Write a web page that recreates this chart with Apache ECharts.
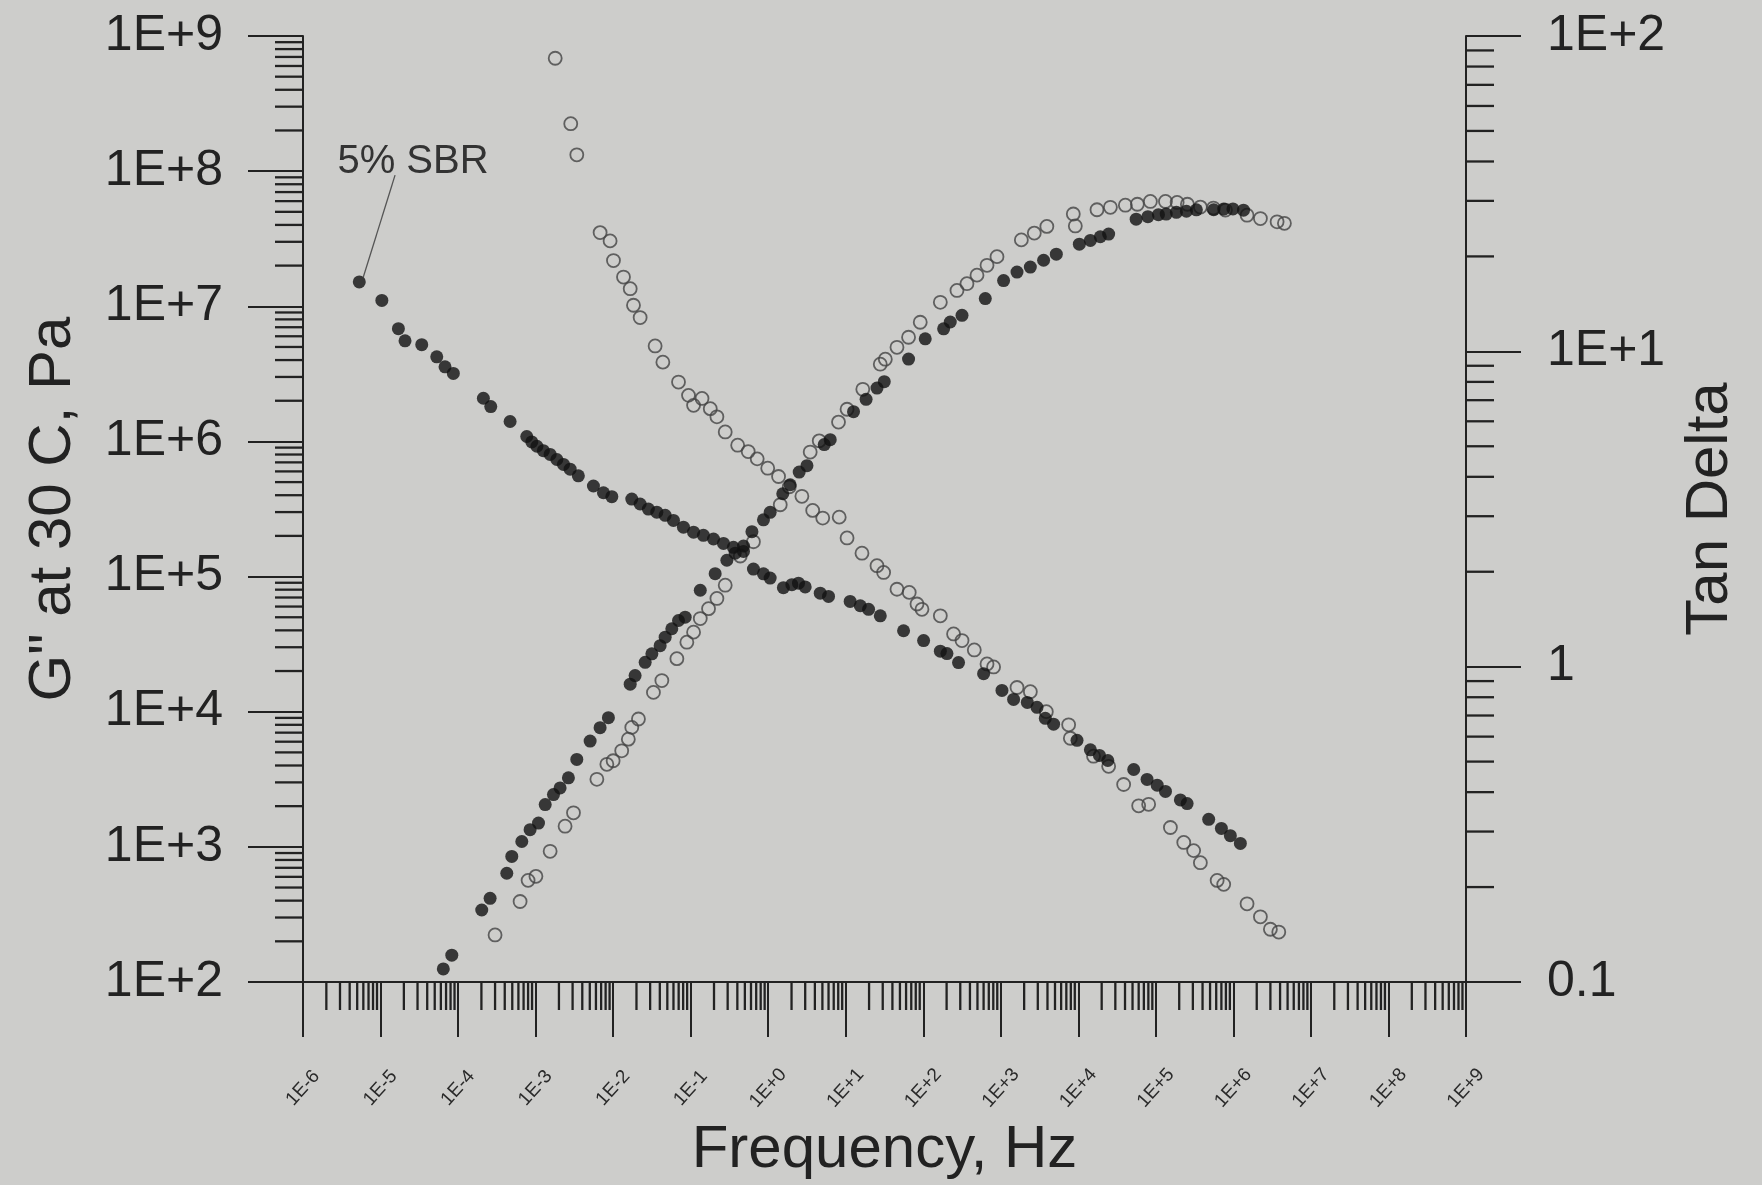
<!DOCTYPE html>
<html><head><meta charset="utf-8">
<script src="https://cdn.jsdelivr.net/npm/echarts@6/dist/echarts.min.js"></script>
<style>html,body{margin:0;padding:0;background:#cdcdcb;}#c{width:1762px;height:1185px;}</style>
</head><body><div id="c"></div>
<script>
// ---- data ----
// filled symbols, Tan Delta (right axis) – labelled "5% SBR"
const freqFilledTan = [5.32e-6,1.04e-5,1.70e-5,2.07e-5,3.40e-5,5.31e-5,6.79e-5,8.69e-5,2.12e-4,2.64e-4,4.69e-4,7.69e-4,8.93e-4,1.04e-3,1.26e-3,1.54e-3,1.88e-3,2.29e-3,2.79e-3,3.56e-3,5.57e-3,7.50e-3,9.62e-3,1.74e-2,2.23e-2,2.85e-2,3.66e-2,4.69e-2,6.00e-2,8.07e-2,0.109,0.146,0.197,0.265,0.356,0.480,0.645,0.869,1.06,1.57,2.02,2.46,3.00,4.69,6.00,11.4,15.4,19.7,27.9,55.7,101,166,202,285,600,1035,1462,2198,2931,3750,4797,9616,1.43e4,1.87e4,2.40e4,5.18e4,7.70e4,1.04e5,1.33e5,2.07e5,2.53e5,4.80e5,7.00e5,9.14e5,1.23e6];
const tanFilled = [16.6,14.5,11.8,10.8,10.5,9.61,8.93,8.51,7.10,6.68,5.99,5.37,5.16,5.00,4.84,4.71,4.54,4.38,4.23,4.03,3.74,3.56,3.46,3.40,3.28,3.16,3.09,3.02,2.91,2.77,2.67,2.61,2.54,2.46,2.39,2.32,2.04,1.97,1.91,1.78,1.82,1.84,1.79,1.71,1.67,1.61,1.56,1.52,1.45,1.30,1.21,1.12,1.10,1.03,0.950,0.841,0.787,0.770,0.743,0.686,0.657,0.584,0.545,0.523,0.504,0.472,0.439,0.421,0.402,0.378,0.368,0.328,0.307,0.291,0.275];
// filled symbols, G'' (left axis)
const freqFilledG = [6.45e-5,8.30e-5,2.02e-4,2.59e-4,4.25e-4,4.93e-4,6.64e-4,8.49e-4,1.09e-3,1.33e-3,1.70e-3,2.07e-3,2.65e-3,3.40e-3,5.05e-3,6.79e-3,8.69e-3,1.66e-2,1.92e-2,2.59e-2,3.16e-2,4.04e-2,4.69e-2,5.71e-2,6.97e-2,8.49e-2,0.133,0.207,0.293,0.375,0.480,0.617,0.869,1.06,1.54,1.92,2.51,3.16,5.28,6.31,12.6,18.3,25.3,31.4,64.6,106,183,223,316,631,1086,1618,2404,3565,5200,1.03e4,1.43e4,1.92e4,2.46e4,5.57e4,7.89e4,1.08e5,1.36e5,1.84e5,2.48e5,3.33e5,5.57e5,7.50e5,9.86e5,1.35e6];
const gFilled = [125,158,341,416,638,849,1096,1340,1500,2055,2438,2729,3243,4436,6067,7621,9036,1.60e4,1.85e4,2.32e4,2.68e4,3.08e4,3.56e4,4.11e4,4.73e4,5.01e4,7.92e4,1.05e5,1.32e5,1.49e5,1.68e5,2.15e5,2.63e5,2.99e5,4.10e5,4.78e5,5.93e5,6.62e5,9.48e5,1.03e6,1.66e6,2.05e6,2.48e6,2.77e6,4.07e6,5.74e6,6.81e6,7.65e6,8.57e6,1.14e7,1.55e7,1.79e7,1.95e7,2.19e7,2.43e7,2.88e7,3.07e7,3.27e7,3.42e7,4.41e7,4.60e7,4.76e7,4.81e7,4.96e7,5.05e7,5.17e7,5.18e7,5.24e7,5.25e7,5.14e7];
// open symbols, Tan Delta (right axis)
const freqOpenTan = [1.79e-3,2.84e-3,3.40e-3,6.79e-3,9.14e-3,1.01e-2,1.36e-2,1.66e-2,1.83e-2,2.23e-2,3.48e-2,4.38e-2,6.97e-2,9.38e-2,0.109,0.140,0.179,0.218,0.279,0.404,0.552,0.721,0.986,1.36,1.87,2.72,3.75,5.05,8.24,10.4,16.2,25.3,30.8,45.8,65.9,83.0,96.2,166,246,316,455,664,807,1618,2404,3864,7499,7888,1.57e4,2.46e4,3.84e4,6.00e4,8.07e4,1.54e5,2.29e5,3.07e5,3.75e5,6.17e5,7.50e5,1.50e6,2.23e6,3.00e6,3.85e6];
const tanOpen = [85.0,52.7,42.0,23.8,22.4,19.4,17.2,15.8,14.0,12.8,10.4,9.24,7.99,7.25,6.74,7.09,6.58,6.20,5.55,5.04,4.81,4.56,4.26,4.01,3.72,3.47,3.13,2.96,2.98,2.56,2.29,2.09,1.99,1.76,1.72,1.58,1.52,1.45,1.27,1.21,1.13,1.02,0.998,0.859,0.833,0.720,0.654,0.593,0.520,0.483,0.423,0.362,0.366,0.309,0.277,0.261,0.239,0.210,0.204,0.177,0.161,0.147,0.144];
// open symbols, G'' (left axis)
const freqOpenG = [3.00e-4,6.31e-4,8.00e-4,1.01e-3,1.54e-3,2.40e-3,3.08e-3,6.17e-3,8.30e-3,1.00e-2,1.29e-2,1.57e-2,1.74e-2,2.12e-2,3.31e-2,4.25e-2,6.64e-2,8.93e-2,0.109,0.133,0.170,0.218,0.279,0.436,0.645,1.43,3.48,4.55,8.07,10.4,16.6,27.9,32.4,45.8,64.6,91.4,166,272,366,493,664,893,1841,2704,3926,8610,9141,1.74e4,2.59e4,4.04e4,5.77e4,8.49e4,1.33e5,1.88e5,2.55e5,3.75e5,5.52e5,7.89e5,1.50e6,2.23e6,3.66e6,4.55e6];
const gOpen = [223,394,565,605,927,1422,1786,3162,4083,4335,5140,6266,7656,8831,1.39e4,1.70e4,2.47e4,3.27e4,3.88e4,4.89e4,5.79e4,6.89e4,8.63e4,1.42e5,1.81e5,3.40e5,8.34e5,1.01e6,1.39e6,1.73e6,2.43e6,3.73e6,4.06e6,4.97e6,5.90e6,7.62e6,1.07e7,1.31e7,1.47e7,1.70e7,2.01e7,2.33e7,3.10e7,3.48e7,3.90e7,4.82e7,3.93e7,5.18e7,5.40e7,5.60e7,5.69e7,5.97e7,5.97e7,5.87e7,5.69e7,5.42e7,5.33e7,5.15e7,4.72e7,4.46e7,4.22e7,4.11e7];
// annotation
const annotationText = '5% SBR';
const annotationLabelAt = [2.62e-5, 39.9];
const annotationLine = [[1.54e-5, 36.2], [6.0e-6, 17.2]];
// axis ranges (decades)
const xRange = [1e-6, 1e9];
const gRange = [1e2, 1e9];
const tanRange = [0.1, 100];
const minorMultipliers = [2,3,4,5,6,7,8,9];

// ---- chart ----
const FONT = '"Liberation Sans", Arial, Helvetica, sans-serif';
const INK = '#222222';
function decadesBetween(lo, hi){const out=[];for(let e=Math.round(Math.log10(lo));e<Math.round(Math.log10(hi));e++){minorMultipliers.forEach(m=>out.push(m*Math.pow(10,e)));}return out;}
function pairs(xs, ys){return xs.map((x,i)=>[x, ys[i]]);}
function expOf(v){return Math.round(Math.log10(v));}
function eLabel(v){const e=expOf(v);return '1E'+(e<0?'-':'+')+Math.abs(e);}

const xMinor = decadesBetween(xRange[0], xRange[1]).map(v=>[v, gRange[0]]);
const gMinor = decadesBetween(gRange[0], gRange[1]).map(v=>[xRange[0], v]);
const tMinor = decadesBetween(tanRange[0], tanRange[1]).map(v=>[xRange[1], v]);
const MINOR = 28;

function minorSeries(data, yIdx, dir){
  return {type:'custom', xAxisIndex:0, yAxisIndex:yIdx, silent:true, clip:false, z:1,
    data:data, encode:{x:0,y:1},
    renderItem:function(params, api){
      const p = api.coord([api.value(0), api.value(1)]);
      let sh;
      if(dir==='down') sh={x1:p[0],y1:p[1],x2:p[0],y2:p[1]+MINOR};
      else if(dir==='left') sh={x1:p[0]-MINOR,y1:p[1],x2:p[0],y2:p[1]};
      else sh={x1:p[0],y1:p[1],x2:p[0]+MINOR,y2:p[1]};
      return {type:'line', shape:sh, style:{stroke:INK, lineWidth:2.3}};
    }};
}

const chart = echarts.init(document.getElementById('c'), null, {renderer:'canvas'});
chart.setOption({
  backgroundColor:'#cdcdcb',
  animation:false,
  textStyle:{fontFamily:FONT},
  grid:{left:303, right:296, top:36, bottom:203},
  xAxis:{type:'log', logBase:10, min:xRange[0], max:xRange[1], interval:1, splitNumber:15,
    axisLine:{show:true, onZero:false, lineStyle:{color:INK, width:2}},
    axisTick:{show:true, length:55, inside:false, lineStyle:{color:INK, width:2}},
    splitLine:{show:false},
    axisLabel:{formatter:eLabel, rotate:48, align:'center', verticalAlign:'middle', margin:106, fontSize:19, color:'#2a2a2a', fontFamily:FONT},
    name:'Frequency, Hz', nameLocation:'middle', nameGap:138,
    nameTextStyle:{fontSize:60, color:INK, fontFamily:FONT}},
  yAxis:[
    {type:'log', logBase:10, min:gRange[0], max:gRange[1], interval:1, position:'left',
      axisLine:{show:true, lineStyle:{color:INK, width:2}},
      axisTick:{show:true, length:55, inside:false, lineStyle:{color:INK, width:2}},
      splitLine:{show:false},
      axisLabel:{formatter:function(v){return '1E+'+expOf(v);}, margin:80, fontSize:50, color:INK, fontFamily:FONT},
      name:'G" at 30 C, Pa', nameLocation:'middle', nameRotate:90, nameGap:220,
      nameTextStyle:{fontSize:60, color:INK, fontFamily:FONT, padding:[0,0,0,0]}},
    {type:'log', logBase:10, min:tanRange[0], max:tanRange[1], interval:1, position:'right',
      axisLine:{show:true, lineStyle:{color:INK, width:2}},
      axisTick:{show:true, length:55, inside:false, lineStyle:{color:INK, width:2}},
      splitLine:{show:false},
      axisLabel:{formatter:function(v){const e=expOf(v);return e>=1?('1E+'+e):(e===0?'1':'0.1');}, margin:81, fontSize:50, color:INK, fontFamily:FONT},
      name:'Tan Delta', nameLocation:'middle', nameRotate:90, nameGap:214,
      nameTextStyle:{fontSize:60, color:INK, fontFamily:FONT}}
  ],
  series:[
    minorSeries(xMinor, 0, 'down'),
    minorSeries(gMinor, 0, 'left'),
    minorSeries(tMinor, 1, 'right'),
    {type:'scatter', name:'open G', xAxisIndex:0, yAxisIndex:0, data:pairs(freqOpenG, gOpen),
      symbol:'circle', symbolSize:13, itemStyle:{color:'rgba(0,0,0,0)', borderColor:'#444', borderWidth:1.8}},
    {type:'scatter', name:'open tan', xAxisIndex:0, yAxisIndex:1, data:pairs(freqOpenTan, tanOpen),
      symbol:'circle', symbolSize:13, itemStyle:{color:'rgba(0,0,0,0)', borderColor:'#444', borderWidth:1.8}},
    {type:'scatter', name:'filled G', xAxisIndex:0, yAxisIndex:0, data:pairs(freqFilledG, gFilled),
      symbol:'circle', symbolSize:13, itemStyle:{color:'#111'}},
    {type:'scatter', name:'filled tan', xAxisIndex:0, yAxisIndex:1, data:pairs(freqFilledTan, tanFilled),
      symbol:'circle', symbolSize:13, itemStyle:{color:'#111'},
      markLine:{silent:true, symbol:['none','none'], animation:false,
        lineStyle:{color:'#555', width:1.3, type:'solid'}, label:{show:false},
        data:[[{coord:annotationLine[0]},{coord:annotationLine[1]}]]},
      markPoint:{silent:true, animation:false,
        data:[{coord:annotationLabelAt, symbol:'circle', symbolSize:0,
          label:{show:true, position:'inside', formatter:annotationText, fontSize:40, color:'#333', fontFamily:FONT}}]}}
  ]
});
</script></body></html>
